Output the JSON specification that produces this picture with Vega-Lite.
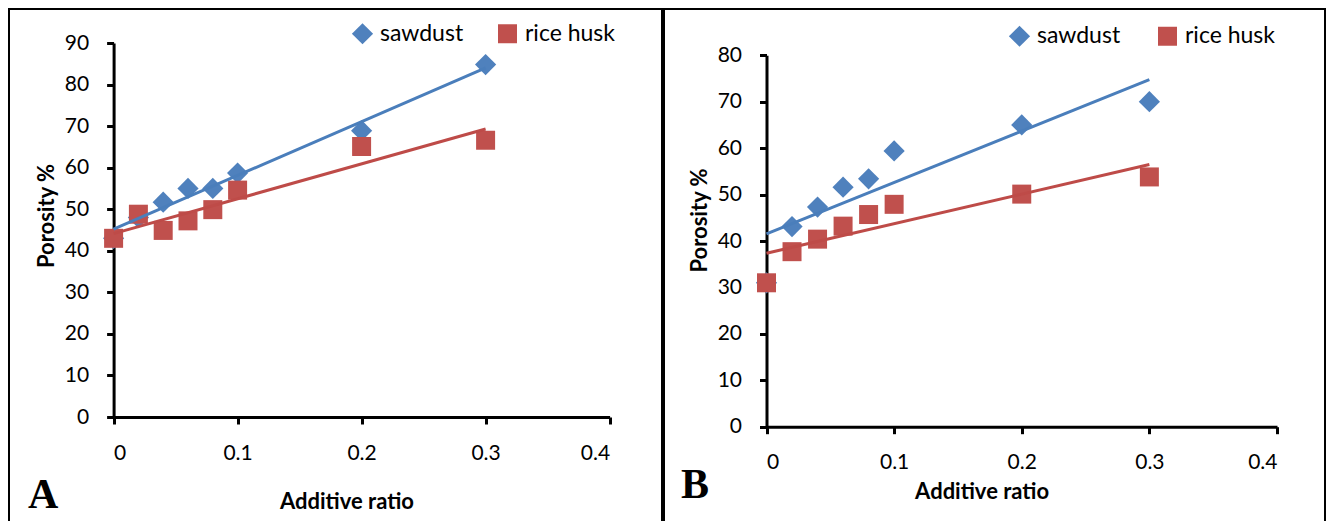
{
  "$schema": "https://vega.github.io/schema/vega-lite/v6.json",
  "background": "white",
  "padding": {"left": 8, "top": 8, "right": 5, "bottom": 0},
  "spacing": 0,
  "datasets": {
    "A": [
      {"series": "sawdust", "ratio": 0, "porosity": 43.0},
      {"series": "sawdust", "ratio": 0.02, "porosity": 48.0},
      {"series": "sawdust", "ratio": 0.04, "porosity": 51.7},
      {"series": "sawdust", "ratio": 0.06, "porosity": 55.0},
      {"series": "sawdust", "ratio": 0.08, "porosity": 55.0},
      {"series": "sawdust", "ratio": 0.1, "porosity": 58.7},
      {"series": "sawdust", "ratio": 0.2, "porosity": 68.9},
      {"series": "sawdust", "ratio": 0.3, "porosity": 84.8},
      {"series": "rice husk", "ratio": 0, "porosity": 43.0},
      {"series": "rice husk", "ratio": 0.02, "porosity": 48.8},
      {"series": "rice husk", "ratio": 0.04, "porosity": 44.9},
      {"series": "rice husk", "ratio": 0.06, "porosity": 47.2},
      {"series": "rice husk", "ratio": 0.08, "porosity": 49.9},
      {"series": "rice husk", "ratio": 0.1, "porosity": 54.6},
      {"series": "rice husk", "ratio": 0.2, "porosity": 65.1},
      {"series": "rice husk", "ratio": 0.3, "porosity": 66.6}
    ],
    "B": [
      {"series": "sawdust", "ratio": 0, "porosity": 31.0},
      {"series": "sawdust", "ratio": 0.02, "porosity": 43.1},
      {"series": "sawdust", "ratio": 0.04, "porosity": 47.3},
      {"series": "sawdust", "ratio": 0.06, "porosity": 51.6},
      {"series": "sawdust", "ratio": 0.08, "porosity": 53.4},
      {"series": "sawdust", "ratio": 0.1, "porosity": 59.4},
      {"series": "sawdust", "ratio": 0.2, "porosity": 65.0},
      {"series": "sawdust", "ratio": 0.3, "porosity": 70.0},
      {"series": "rice husk", "ratio": 0, "porosity": 31.0},
      {"series": "rice husk", "ratio": 0.02, "porosity": 37.7},
      {"series": "rice husk", "ratio": 0.04, "porosity": 40.4},
      {"series": "rice husk", "ratio": 0.06, "porosity": 43.2},
      {"series": "rice husk", "ratio": 0.08, "porosity": 45.7},
      {"series": "rice husk", "ratio": 0.1, "porosity": 47.9},
      {"series": "rice husk", "ratio": 0.2, "porosity": 50.1},
      {"series": "rice husk", "ratio": 0.3, "porosity": 53.8}
    ]
  },
  "hconcat": [
    {
      "width": 653,
      "height": 514,
      "data": {"name": "A"},
      "title": {"text": "A", "orient": "bottom", "anchor": "start", "frame": "group", "offset": -15, "baseline": "alphabetic", "dx": 19, "font": "Liberation Serif", "fontSize": 42, "fontWeight": "bold", "color": "black"},
      "layer": [
        {
          "mark": {"type": "point", "filled": true, "opacity": 1},
          "encoding": {
            "x": {"field": "ratio", "type": "quantitative",
              "scale": {"domain": [0, 0.4], "range": [104.6, 600.6], "nice": false, "zero": false},
              "axis": {"orient": "bottom", "offset": -106, "values": [0, 0.1, 0.2, 0.3, 0.4], "format": "~g", "labelBaseline": "alphabetic", "labelPadding": 35, "title": "Additive ratio", "titleX": 337.5, "titleY": 91, "titleBaseline": "alphabetic", "titleAlign": "center"}},
            "y": {"field": "porosity", "type": "quantitative",
              "scale": {"domain": [0, 90], "range": [408, 34], "nice": false, "zero": false},
              "axis": {"orient": "left", "offset": -104.6, "values": [0, 10, 20, 30, 40, 50, 60, 70, 80, 90], "labelPadding": 18, "title": "Porosity %", "titleX": -60.6, "titleY": 206.5, "titleBaseline": "alphabetic", "titleAlign": "center", "titleAngle": 270}},
            "color": {"field": "series", "type": "nominal", "scale": {"domain": ["sawdust", "rice husk"], "range": ["#4F81BD", "#C0504D"]},
              "legend": {"title": null, "orient": "none", "legendX": 342, "legendY": 13, "direction": "horizontal", "columnPadding": 32, "labelOffset": 6, "labelFont": "Lato", "labelFontSize": 23, "labelColor": "black", "padding": 0, "symbolStrokeWidth": 0}},
            "shape": {"field": "series", "type": "nominal", "scale": {"domain": ["sawdust", "rice husk"], "range": ["diamond", "square"]}},
            "size": {"field": "series", "type": "nominal", "scale": {"domain": ["sawdust", "rice husk"], "range": [450, 361]}}
          }
        },
        {
          "transform": [{"regression": "porosity", "on": "ratio", "groupby": ["series"]}],
          "mark": {"type": "line", "strokeWidth": 3},
          "encoding": {
            "x": {"field": "ratio", "type": "quantitative"},
            "y": {"field": "porosity", "type": "quantitative"},
            "stroke": {"field": "series", "type": "nominal", "scale": {"domain": ["sawdust", "rice husk"], "range": ["#4A7EBB", "#BE4B48"]}, "legend": null}
          }
        }
      ]
    },
    {
      "width": 661,
      "height": 514,
      "data": {"name": "B"},
      "title": {"text": "B", "orient": "bottom", "anchor": "start", "frame": "group", "offset": -25, "baseline": "alphabetic", "dx": 17, "font": "Liberation Serif", "fontSize": 42, "fontWeight": "bold", "color": "black"},
      "layer": [
        {
          "mark": {"type": "point", "filled": true, "opacity": 1},
          "encoding": {
            "x": {"field": "ratio", "type": "quantitative",
              "scale": {"domain": [0, 0.4], "range": [102.5, 613], "nice": false, "zero": false},
              "axis": {"orient": "bottom", "offset": -96.3, "values": [0, 0.1, 0.2, 0.3, 0.4], "format": "~g", "labelBaseline": "alphabetic", "labelPadding": 35, "title": "Additive ratio", "titleX": 317.6, "titleY": 72, "titleBaseline": "alphabetic", "titleAlign": "center"}},
            "y": {"field": "porosity", "type": "quantitative",
              "scale": {"domain": [0, 80], "range": [417.7, 46.3], "nice": false, "zero": false},
              "axis": {"orient": "left", "offset": -102.5, "values": [0, 10, 20, 30, 40, 50, 60, 70, 80], "labelPadding": 18, "title": "Porosity %", "titleX": -60.5, "titleY": 211, "titleBaseline": "alphabetic", "titleAlign": "center", "titleAngle": 270}},
            "color": {"field": "series", "type": "nominal", "scale": {"domain": ["sawdust", "rice husk"], "range": ["#4F81BD", "#C0504D"]},
              "legend": {"title": null, "orient": "none", "legendX": 344, "legendY": 15.5, "direction": "horizontal", "columnPadding": 35, "labelOffset": 6, "labelFont": "Lato", "labelFontSize": 23, "labelColor": "black", "padding": 0, "symbolStrokeWidth": 0}},
            "shape": {"field": "series", "type": "nominal", "scale": {"domain": ["sawdust", "rice husk"], "range": ["diamond", "square"]}},
            "size": {"field": "series", "type": "nominal", "scale": {"domain": ["sawdust", "rice husk"], "range": [450, 361]}}
          }
        },
        {
          "transform": [{"regression": "porosity", "on": "ratio", "groupby": ["series"]}],
          "mark": {"type": "line", "strokeWidth": 3},
          "encoding": {
            "x": {"field": "ratio", "type": "quantitative"},
            "y": {"field": "porosity", "type": "quantitative"},
            "stroke": {"field": "series", "type": "nominal", "scale": {"domain": ["sawdust", "rice husk"], "range": ["#4A7EBB", "#BE4B48"]}, "legend": null}
          }
        }
      ]
    }
  ],
  "resolve": {"scale": {"x": "independent", "y": "independent", "color": "independent", "shape": "independent", "size": "independent", "stroke": "independent"}},
  "config": {
    "view": {"stroke": "black", "strokeWidth": 2, "fill": "white"},
    "axis": {"grid": false, "domainColor": "black", "domainWidth": 3, "tickColor": "black", "tickWidth": 3, "tickSize": 7, "labelFont": "Lato", "labelFontSize": 21, "labelColor": "black", "titleFont": "Lato", "titleFontSize": 22, "titleFontWeight": "bold", "titleColor": "black"}
  }
}
